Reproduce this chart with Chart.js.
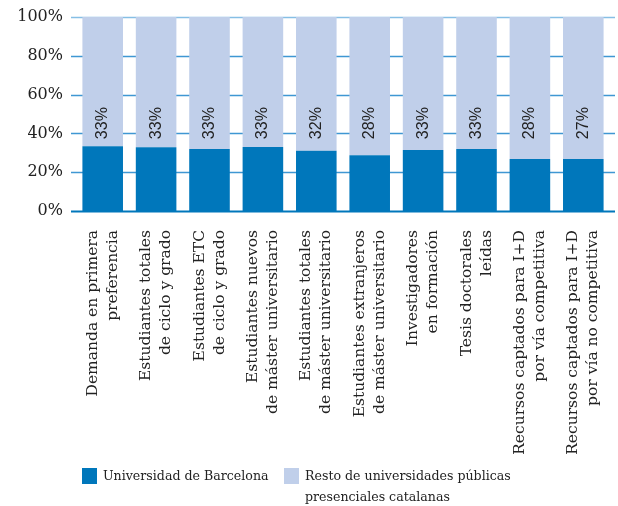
<!DOCTYPE html>
<html>
<head>
<meta charset="utf-8">
<script src="https://cdn.jsdelivr.net/npm/chart.js@4/dist/chart.umd.min.js"></script>
<style>
  html, body { margin: 0; padding: 0; background: #fff; }
  #wrap { width: 618px; height: 506px; }
</style>
</head>
<body>
<div id="wrap"><canvas id="barCanvas"></canvas></div>
<script>
const categorias = [
    ['Demanda en primera', 'preferencia'],
    ['Estudiantes totales', 'de ciclo y grado'],
    ['Estudiantes ETC', 'de ciclo y grado'],
    ['Estudiantes nuevos', 'de máster universitario'],
    ['Estudiantes totales', 'de máster universitario'],
    ['Estudiantes extranjeros', 'de máster universitario'],
    ['Investigadores', 'en formación'],
    ['Tesis doctorales', 'leídas'],
    ['Recursos captados para I+D', 'por vía competitiva'],
    ['Recursos captados para I+D', 'por vía no competitiva']
];
const valoresUB = [33.4, 32.9, 32.0, 33.0, 31.0, 28.8, 31.4, 32.0, 26.8, 26.8];
const valoresResto = [66.6, 67.1, 68.0, 67.0, 69.0, 71.2, 68.6, 68.0, 73.2, 73.2];
const etiquetas = ['33%', '33%', '33%', '33%', '32%', '28%', '33%', '33%', '28%', '27%'];
const ticksY = [0, 20, 40, 60, 80, 100];
const nombreUB = ['Universidad de Barcelona'];
const nombreResto = ['Resto de universidades públicas', 'presenciales catalanas'];

const azul = '#0077bb';
const azulClaro = '#c0cfea';
const serif = 'DejaVu Serif';

// horizontal lines, a bit wider than the bars area
const lineasFondo = {
    id: 'lineasFondo',
    beforeDatasetsDraw(chart) {
        const ctx = chart.ctx;
        const y = chart.scales.y;
        const a = chart.chartArea;
        ctx.save();
        ticksY.forEach(v => {
            const py = Math.round(y.getPixelForValue(v)) + 0.5;
            ctx.beginPath();
            ctx.moveTo(a.left - 5, py);
            ctx.lineTo(a.right + 5, py);
            ctx.lineWidth = v === 0 ? 2 : 1.5;
            ctx.strokeStyle = v === 0 ? azul : (v === 100 ? '#86bfe5' : '#3f97d3');
            ctx.stroke();
        });
        ctx.restore();
    }
};

// rotated % labels over the bars
const textoBarras = {
    id: 'textoBarras',
    afterDatasetsDraw(chart) {
        const ctx = chart.ctx;
        const meta = chart.getDatasetMeta(0);
        const y = chart.scales.y.getPixelForValue(45.3);
        ctx.save();
        ctx.font = '16px "Liberation Sans", Arial, sans-serif';
        ctx.fillStyle = '#222';
        ctx.textAlign = 'center';
        ctx.textBaseline = 'middle';
        meta.data.forEach((bar, i) => {
            ctx.save();
            ctx.translate(bar.x, y);
            ctx.rotate(-Math.PI / 2);
            ctx.fillText(etiquetas[i], 0, 0);
            ctx.restore();
        });
        ctx.restore();
    }
};

// legend drawn by hand so the second entry can wrap on two lines
const leyenda = {
    id: 'leyenda',
    afterDraw(chart) {
        const ctx = chart.ctx;
        const x0 = chart.chartArea.left + 6;
        const y0 = chart.height - 38;
        const items = [
            { text: nombreUB, color: azul, x: x0 },
            { text: nombreResto, color: azulClaro, x: x0 + 202 }
        ];
        ctx.save();
        ctx.font = '12.6px "' + serif + '"';
        ctx.textBaseline = 'middle';
        ctx.textAlign = 'left';
        items.forEach(it => {
            ctx.fillStyle = it.color;
            ctx.fillRect(it.x, y0, 15, 16);
            ctx.fillStyle = '#222';
            it.text.forEach((t, k) => ctx.fillText(t, it.x + 21, y0 + 9 + k * 21));
        });
        ctx.restore();
    }
};

const barChart = document.getElementById('barCanvas');
const graph = new Chart(barChart, {
    type: 'bar',
    data: {
        labels: categorias,
        datasets: [{
            label: nombreUB[0],
            data: valoresUB,
            backgroundColor: azul,
            barPercentage: 0.76,
            categoryPercentage: 1
        }, {
            label: nombreResto.join(' '),
            data: valoresResto,
            backgroundColor: azulClaro,
            barPercentage: 0.76,
            categoryPercentage: 1
        }]
    },
    options: {
        responsive: true,
        maintainAspectRatio: false,
        animation: false,
        layout: {
            padding: { top: 17, right: 8, left: 0, bottom: 45 }
        },
        scales: {
            x: {
                stacked: true,
                grid: { display: false, drawTicks: false },
                border: { display: false },
                afterFit: (scale) => {
                    scale.height = 250;
                    scale.paddingLeft = 0;
                    scale.paddingRight = 0;
                },
                ticks: {
                    autoSkip: false,
                    maxRotation: 90,
                    minRotation: 90,
                    padding: 19,
                    labelOffset: -10,
                    color: '#222',
                    font: { family: serif, size: 15.5, lineHeight: 1.29 }
                }
            },
            y: {
                stacked: true,
                min: 0,
                max: 100,
                grid: { display: false, drawTicks: false },
                border: { display: false },
                afterFit: (scale) => {
                    scale.width = 76;
                    scale.paddingTop = 0;
                    scale.paddingBottom = 0;
                },
                ticks: {
                    stepSize: 20,
                    padding: 13,
                    color: '#222',
                    font: { family: serif, size: 16 },
                    callback: (v) => v + '%'
                }
            }
        },
        plugins: {
            tooltip: { enabled: false },
            legend: { display: false }
        }
    },
    plugins: [lineasFondo, textoBarras, leyenda]
});
</script>
</body>
</html>
